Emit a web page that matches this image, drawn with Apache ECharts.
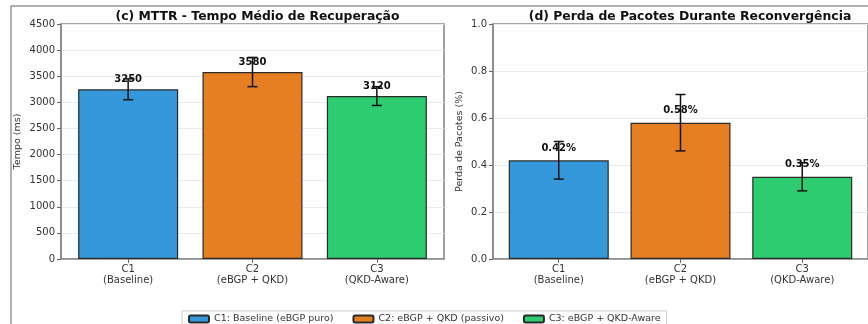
<!DOCTYPE html>
<html>
<head>
<meta charset="utf-8">
<script src="https://cdn.jsdelivr.net/npm/echarts@6/dist/echarts.min.js"></script>
<style>html,body{margin:0;padding:0;background:#fff}#c{width:868px;height:324px}</style>
</head>
<body>
<div id="c"></div>
<script>
// ---- data ----
const categories = ['C1\n(Baseline)', 'C2\n(eBGP + QKD)', 'C3\n(QKD-Aware)'];
const legendNames = ['C1: Baseline (eBGP puro)', 'C2: eBGP + QKD (passivo)', 'C3: eBGP + QKD-Aware'];
const mttrValues = [3250, 3580, 3120];
const mttrErrors = [200, 280, 180];
const lossValues = [0.42, 0.58, 0.35];
const lossErrors = [0.08, 0.12, 0.06];
const mttrTicks = [0, 500, 1000, 1500, 2000, 2500, 3000, 3500, 4000, 4500];
const lossTicks = [0, 0.2, 0.4, 0.6, 0.8, 1.0];
const titles = ['(c) MTTR - Tempo Médio de Recuperação', '(d) Perda de Pacotes Durante Reconvergência'];
const yNames = ['Tempo (ms)', 'Perda de Pacotes (%)'];

// ---- style ----
const colors = ['#3498db', '#e67e22', '#2ecc71'];
const edge = '#2b2b2b';
const spine = '#8a8a8a';
const font = 'DejaVu Sans';
const catIdx = [0, 1, 2];

const chart = echarts.init(document.getElementById('c'), null, {renderer: 'canvas'});

function xAxis(gi) {
  return {
    type: 'value', gridIndex: gi, min: -0.54, max: 2.54,
    axisLine: {show: true, onZero: false, lineStyle: {color: spine, width: 1.6}},
    axisTick: {show: true, customValues: catIdx, length: 4, lineStyle: {color: '#666'}},
    axisLabel: {customValues: catIdx, formatter: v => categories[Math.round(v)], fontFamily: font, fontSize: 10, color: '#333', lineHeight: 11, margin: 5},
    splitLine: {show: false}
  };
}
function yAxis(gi, ticks, fmt, nameGap) {
  const step = ticks[1] - ticks[0];
  return {
    type: 'value', gridIndex: gi, min: ticks[0], max: ticks[ticks.length - 1], interval: step,
    name: yNames[gi], nameLocation: 'middle', nameRotate: 90, nameGap: nameGap,
    nameTextStyle: {fontFamily: font, fontSize: 9.5, color: '#333'},
    axisLine: {show: true, onZero: false, lineStyle: {color: spine, width: 1.6}},
    axisTick: {show: true, length: 4, lineStyle: {color: '#666'}},
    axisLabel: {formatter: fmt, fontFamily: font, fontSize: 10, color: '#333', margin: 6},
    splitLine: {show: true, lineStyle: {color: '#ebebeb', width: 1}}
  };
}

function barSeries(gi, values, fmt, dist) {
  return values.map((v, i) => ({
    type: 'bar', name: legendNames[i], xAxisIndex: gi, yAxisIndex: gi,
    barWidth: 100, barGap: '-100%',
    data: [[i, v]],
    itemStyle: {color: colors[i], borderColor: edge, borderWidth: 1.2},
    label: {show: true, position: 'top', distance: dist, formatter: p => fmt(p.value[1]),
            fontFamily: font, fontSize: 10, fontWeight: 'bold', color: '#111'},
    z: 2
  }));
}
function errSeries(gi, values, errors) {
  return {
    type: 'custom', xAxisIndex: gi, yAxisIndex: gi, z: 5, silent: true,
    data: values.map((v, i) => [i, v, errors[i]]),
    renderItem: (params, api) => {
      const x = api.value(0), v = api.value(1), e = api.value(2);
      const hi = api.coord([x, v + e]), lo = api.coord([x, v - e]);
      const c = 5;
      const st = {stroke: '#111', lineWidth: 1.5};
      return {type: 'group', children: [
        {type: 'line', shape: {x1: hi[0], y1: hi[1], x2: lo[0], y2: lo[1]}, style: st},
        {type: 'line', shape: {x1: hi[0] - c, y1: hi[1], x2: hi[0] + c, y2: hi[1]}, style: st},
        {type: 'line', shape: {x1: lo[0] - c, y1: lo[1], x2: lo[0] + c, y2: lo[1]}, style: st}
      ]};
    }
  };
}

const option = {
  backgroundColor: '#fff',
  animation: false,
  title: [
    {text: titles[0], left: 252.5, top: 6, textAlign: 'center', textStyle: {fontFamily: font, fontSize: 12.4, fontWeight: 'bold', color: '#111'}},
    {text: titles[1], left: 685, top: 6, textAlign: 'center', textStyle: {fontFamily: font, fontSize: 12.4, fontWeight: 'bold', color: '#111'}}
  ],
  grid: [
    {left: 61, top: 24, width: 383, height: 235, show: true, borderColor: spine, borderWidth: 1.6, backgroundColor: 'transparent'},
    {left: 493, top: 24, width: 384, height: 235, show: true, borderColor: spine, borderWidth: 1.6, backgroundColor: 'transparent'}
  ],
  xAxis: [xAxis(0), xAxis(1)],
  yAxis: [
    yAxis(0, mttrTicks, v => String(v), 38),
    yAxis(1, lossTicks, v => v.toFixed(1), 28)
  ],
  legend: {
    data: legendNames, left: 182, top: 311, orient: 'horizontal',
    itemWidth: 20, itemHeight: 7, itemGap: 19,
    padding: [3, 6], borderColor: '#ccc', borderWidth: 1,
    textStyle: {fontFamily: font, fontSize: 9.5, color: '#333'}
  },
  graphic: [
    {type: 'rect', shape: {x: 11, y: 6, width: 900, height: 400}, style: {fill: null, stroke: '#999', lineWidth: 1.5}, silent: true, z: -1}
  ],
  series: [
    ...barSeries(0, mttrValues, v => String(v), 5),
    errSeries(0, mttrValues, mttrErrors),
    ...barSeries(1, lossValues, v => v.toFixed(2) + '%', 7),
    errSeries(1, lossValues, lossErrors)
  ]
};
chart.setOption(option);
</script>
</body>
</html>
